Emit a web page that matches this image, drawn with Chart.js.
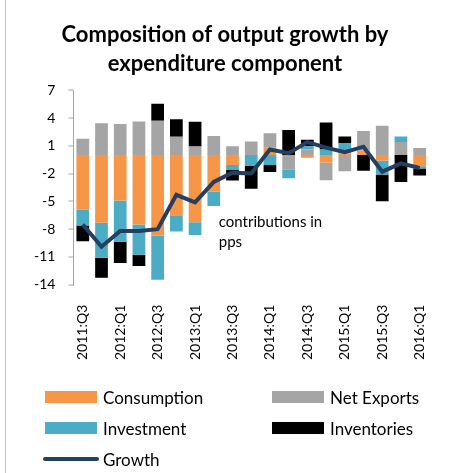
<!DOCTYPE html>
<html>
<head>
<meta charset="utf-8">
<script src="https://cdn.jsdelivr.net/npm/chart.js@4.4.1/dist/chart.umd.min.js"></script>
<style>
  body { margin: 0; background: #fff; }
  #wrap { position: relative; width: 456px; height: 473px; }
  #frame { position: absolute; left: 5px; top: 0; width: 1px; height: 473px; background: #c8c8c8; }
  #legend { position: absolute; left: 0; top: 0; width: 456px; height: 473px; pointer-events: none;
            font-family: Lato, 'Open Sans', sans-serif; font-size: 17px; color: #000; }
  .item { position: absolute; display: flex; align-items: center; height: 20px; }
  .swatch { width: 52px; height: 12px; margin-right: 6px; }
  .swatch.line { width: 56px; height: 4px; border-radius: 2px; margin-left: -2px; margin-right: 4px; }
</style>
</head>
<body>
<div id="wrap">
  <canvas id="myChart" width="456" height="473"></canvas>
  <div id="frame"></div>
  <div id="legend"></div>
</div>
<script>
const quarters = ['2011:Q3','2011:Q4','2012:Q1','2012:Q2','2012:Q3','2012:Q4','2013:Q1','2013:Q2','2013:Q3','2013:Q4',
                  '2014:Q1','2014:Q2','2014:Q3','2014:Q4','2015:Q1','2015:Q2','2015:Q3','2015:Q4','2016:Q1'];
const consumption = [-5.9, -7.3, -4.9, -7.5, -8.7, -6.5, -7.25, -3.95, -1.07, 0, 0.78, 0, -0.3, -0.8, 0.2, 0.5, -0.6, 0, -1.2];
const netExports  = [1.76, 3.44, 3.36, 3.62, 3.69, 1.98, 0.93, 2.05, 0.96, 1.47, 1.56, -1.6, 0.6, -1.93, -1.75, 2.1, 3.17, 1.4, 0.75];
const investment  = [-1.7, -3.78, -4.47, -3.27, -4.76, -1.75, -1.38, -1.56, -0.55, -1.18, -1.07, -0.91, 0.35, 0.6, 1.1, 0, -1.5, 0.6, -0.25];
const inventories = [-1.7, -2.18, -2.29, -1.2, 1.85, 1.89, 2.65, 0, -1.13, -2.47, -0.76, 2.71, 0.7, 2.9, 0.7, -1.7, -2.9, -2.9, -0.75];
const growth      = [-7.5, -9.9, -8.2, -8.2, -8.0, -4.3, -5.1, -2.9, -1.9, -2.0, 0.6, 0.2, 1.4, 0.8, 0.3, 0.9, -1.8, -0.9, -1.4];

const FONT = "Lato, 'Open Sans', sans-serif";

function barSet(label, values, color) {
    return {
        type: 'bar',
        label: label,
        data: values,
        backgroundColor: color,
        borderWidth: 0,
        barPercentage: 0.68,
        categoryPercentage: 1,
        stack: 'parts',
        order: 1
    };
}

// little text note placed in the plot, like the original
const notePlugin = {
    id: 'note',
    afterDatasetsDraw(chart) {
        const c = chart.ctx;
        const x = chart.scales.x.getPixelForValue(7) + 5;
        const y = chart.scales.y.getPixelForValue(-7.2);
        c.save();
        c.font = '15px ' + FONT;
        c.fillStyle = '#000';
        c.textBaseline = 'middle';
        c.fillText('contributions in', x, y);
        c.fillText('pps', x, y + 20);
        c.restore();
    }
};

const ctx = document.getElementById('myChart').getContext('2d');
const myChart = new Chart(ctx, {
    data: {
        labels: quarters,
        datasets: [
            barSet('Consumption', consumption, '#F79646'),
            barSet('Net Exports', netExports, '#A5A5A5'),
            barSet('Investment', investment, '#4BACC6'),
            barSet('Inventories', inventories, '#000000'),
            {
                type: 'line',
                label: 'Growth',
                data: growth,
                borderColor: '#243F60',
                backgroundColor: '#243F60',
                borderWidth: 4,
                pointRadius: 0,
                tension: 0,
                stack: 'growth',
                order: 0
            }
        ]
    },
    options: {
        responsive: false,
        animation: false,
        layout: { padding: { left: 21, right: 27, top: 12, bottom: 101 } },
        plugins: {
            legend: { display: false },
            tooltip: { enabled: false },
            title: {
                display: true,
                text: ['Composition of output growth by', 'expenditure component'],
                color: '#000',
                font: { family: FONT, size: 22, weight: 'bold', lineHeight: 1.3 },
                padding: { top: 9, bottom: 12 }
            }
        },
        scales: {
            x: {
                stacked: true,
                grid: { display: false },
                border: { display: false },
                ticks: {
                    autoSkip: false,
                    minRotation: 90,
                    maxRotation: 90,
                    padding: 12,
                    color: '#000',
                    font: { family: FONT, size: 14 },
                    callback: function (val, i) { return i % 2 === 0 ? quarters[i] : ''; }
                }
            },
            y: {
                stacked: true,
                min: -14,
                max: 7,
                ticks: {
                    stepSize: 3,
                    padding: 13,
                    color: '#000',
                    font: { family: FONT, size: 14 }
                },
                grid: {
                    color: c => c.tick && c.tick.value === 0 ? '#BFBFBF' : 'rgba(0,0,0,0)',
                    lineWidth: 2,
                    tickColor: '#A6A6A6',
                    tickLength: 5,
                    tickWidth: 1
                },
                border: { display: true, color: '#A6A6A6', width: 1 }
            }
        }
    },
    plugins: [notePlugin]
});

// legend in two columns, built from the chart's datasets
const legendPos = { 'Consumption': [45, 397], 'Net Exports': [272, 397], 'Investment': [45, 428], 'Inventories': [272, 428], 'Growth': [45, 459] };
const legendBox = document.getElementById('legend');
myChart.data.datasets.forEach(ds => {
    const p = legendPos[ds.label];
    const item = document.createElement('div');
    item.className = 'item';
    item.style.left = p[0] + 'px';
    item.style.top = (p[1] - 10) + 'px';
    const sw = document.createElement('span');
    sw.className = ds.type === 'line' ? 'swatch line' : 'swatch';
    sw.style.background = ds.type === 'line' ? ds.borderColor : ds.backgroundColor;
    item.appendChild(sw);
    item.appendChild(document.createTextNode(ds.label));
    legendBox.appendChild(item);
});
</script>
</body>
</html>
